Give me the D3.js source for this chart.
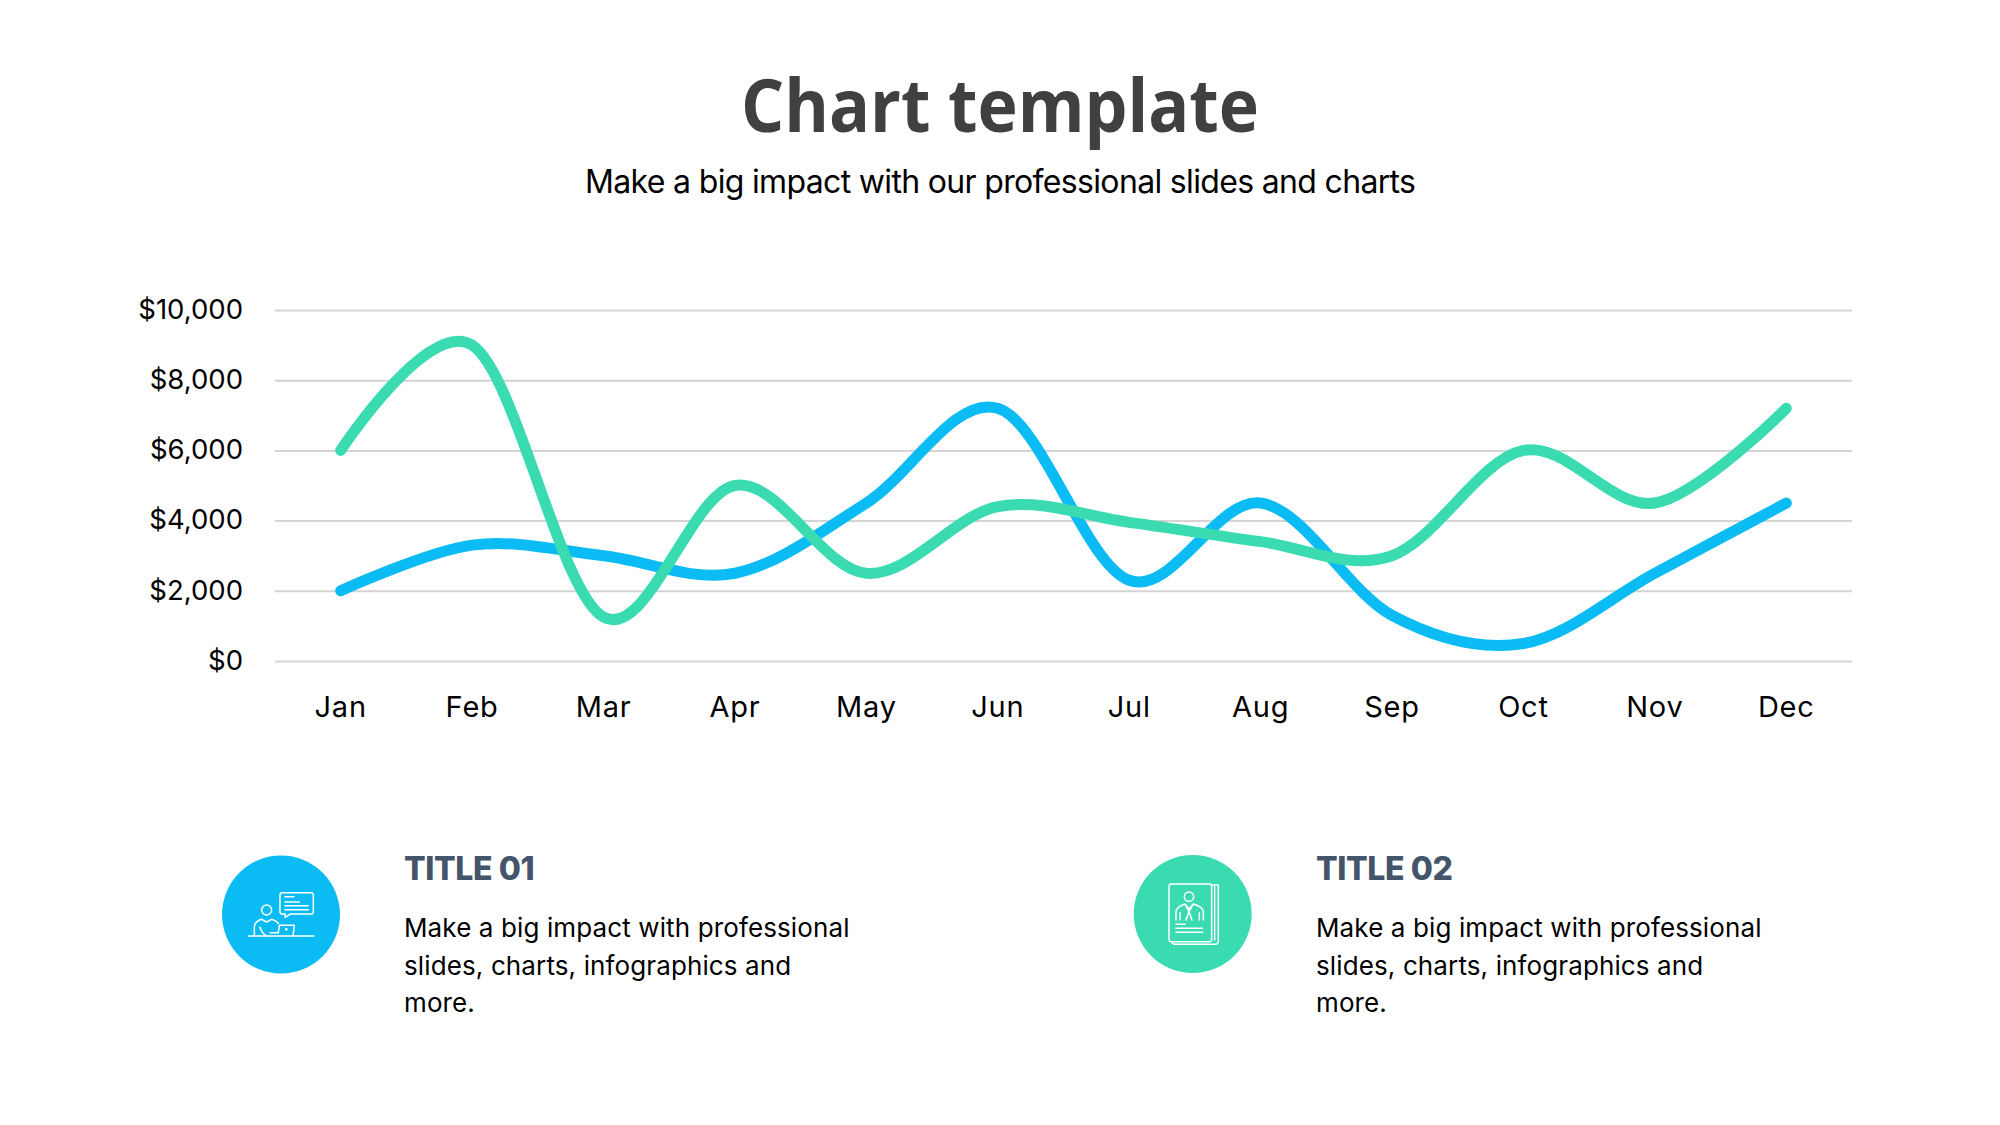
<!DOCTYPE html>
<html>
<head>
<meta charset="utf-8">
<script src="https://cdn.jsdelivr.net/npm/d3@7"></script>
<style>
  html, body { margin: 0; padding: 0; background: #fff; }
  svg { display: block; }
  text { font-family: Inter, sans-serif; }
</style>
</head>
<body>
<svg id="chart" width="2000" height="1125"></svg>
<script>
var months = ["Jan", "Feb", "Mar", "Apr", "May", "Jun", "Jul", "Aug", "Sep", "Oct", "Nov", "Dec"];
var blueValues = [2000, 3300, 3000, 2500, 4500, 7200, 2300, 4500, 1300, 500, 2500, 4500];
var greenValues = [6000, 9000, 1250, 5000, 2500, 4400, 3950, 3400, 3000, 6000, 4500, 7200];
var yTicks = [0, 2000, 4000, 6000, 8000, 10000];
var bodyLines = ["Make a big impact with professional", "slides, charts, infographics and", "more."];

var svg = d3.select("#chart");

svg.append("text").attr("x", 1000).attr("y", 132)
    .attr("text-anchor", "middle")
    .attr("textLength", 518).attr("lengthAdjust", "spacingAndGlyphs")
    .style("font-family", "'Open Sans'").style("font-weight", 700)
    .style("font-size", "74px").attr("fill", "#404040")
    .text("Chart template");
svg.append("text").attr("x", 1000.5).attr("y", 193)
    .attr("text-anchor", "middle")
    .attr("textLength", 831).attr("lengthAdjust", "spacing")
    .style("font-size", "32px").attr("fill", "#000")
    .text("Make a big impact with our professional slides and charts");

var x = d3.scaleBand().domain(months).range([275, 1852]);
var y = d3.scaleLinear().domain([0, 10000]).range([661, 310]);

var yAxis = svg.append("g").attr("transform", "translate(275,0)")
    .call(d3.axisLeft(y).tickValues(yTicks).tickSize(-1577).tickPadding(32)
        .tickFormat(function(d) { return "$" + d3.format(",")(d); }));
yAxis.select(".domain").remove();
yAxis.selectAll("line").attr("stroke", "#d4d4d4").attr("stroke-width", 2);
yAxis.selectAll("text").style("font-size", "27.5px").attr("fill", "#000").attr("dy", "0.3em");

var xAxis = svg.append("g").attr("transform", "translate(0,661)")
    .call(d3.axisBottom(x).tickSize(0).tickPadding(35));
xAxis.select(".domain").remove();
xAxis.selectAll("text").style("font-size", "29px").style("letter-spacing", "0.8px")
    .attr("fill", "#000").attr("dy", "0.71em");

var line = d3.line()
    .x(function(d, i) { return x(months[i]) + x.bandwidth() / 2; })
    .y(function(d) { return y(d); })
    .curve(d3.curveCatmullRom.alpha(0));

svg.append("path").datum(blueValues).attr("d", line)
    .attr("fill", "none").attr("stroke", "#0bbbf3")
    .attr("stroke-width", 11).attr("stroke-linecap", "round");
svg.append("path").datum(greenValues).attr("d", line)
    .attr("fill", "none").attr("stroke", "#3bdbb1")
    .attr("stroke-width", 11).attr("stroke-linecap", "round");

function textBlock(left, title) {
  svg.append("text").attr("x", left).attr("y", 880)
      .style("font-weight", 800).style("font-size", "32px").style("letter-spacing", "-0.4px")
      .attr("fill", "#44546a")
      .text(title);
  svg.selectAll(null).data(bodyLines).enter().append("text")
      .attr("x", left)
      .attr("y", function(d, i) { return 937 + i * 37.7; })
      .style("font-size", "26px").style("letter-spacing", "0.12px").attr("fill", "#000")
      .text(function(d) { return d; });
}
textBlock(404, "TITLE 01");
textBlock(1316, "TITLE 02");

// icons are traced in the 3x space of the zoomed crop
function iconGroup(ox, oy) {
  return svg.append("g").attr("transform", "translate(" + ox + "," + oy + ") scale(0.3333)")
      .attr("fill", "none").attr("stroke", "#fff").attr("stroke-width", 4.5)
      .attr("stroke-linecap", "round").attr("stroke-linejoin", "round");
}

svg.append("circle").attr("cx", 281).attr("cy", 914.5).attr("r", 59).attr("fill", "#0bbbf3");
var icon1 = iconGroup(200, 840);
icon1.append("path").attr("d", "M247 158H333Q340 158 340 165V215Q340 222 333 222H272L255 232L256 222H247Q240 222 240 215V165Q240 158 247 158Z");
icon1.append("path").attr("d", "M255 170H282M255 186H298M255 197H325M255 209H325");
icon1.append("circle").attr("cx", 200).attr("cy", 210).attr("r", 15);
icon1.append("path").attr("d", "M163 288V262Q163 245 185 238L200 246L215 238Q228 242 235 250M180 262Q185 280 200 288M210 278H235");
icon1.append("path").attr("d", "M235 278L238 256H283L279 288M145 288H342");
icon1.append("circle").attr("cx", 259).attr("cy", 268).attr("r", 2);

svg.append("circle").attr("cx", 1192.7).attr("cy", 914).attr("r", 59).attr("fill", "#3bdbb1");
var icon2 = iconGroup(1120, 840);
icon2.append("rect").attr("x", 147).attr("y", 132).attr("width", 128).attr("height", 173).attr("rx", 7);
icon2.append("path").attr("d", "M275 135H295V303Q295 313 285 313H167Q158 313 155 305M284 140V300");
icon2.append("circle").attr("cx", 207).attr("cy", 170).attr("r", 14);
icon2.append("path").attr("d", "M168 240V215Q170 200 195 192L207 207L220 192Q248 200 250 215V240M195 192L207 215L220 192M207 215L198 240M207 215L216 240M180 218V240M238 218V240");
icon2.append("path").attr("d", "M168 253H195M168 265H248M168 277H248");
</script>
</body>
</html>
